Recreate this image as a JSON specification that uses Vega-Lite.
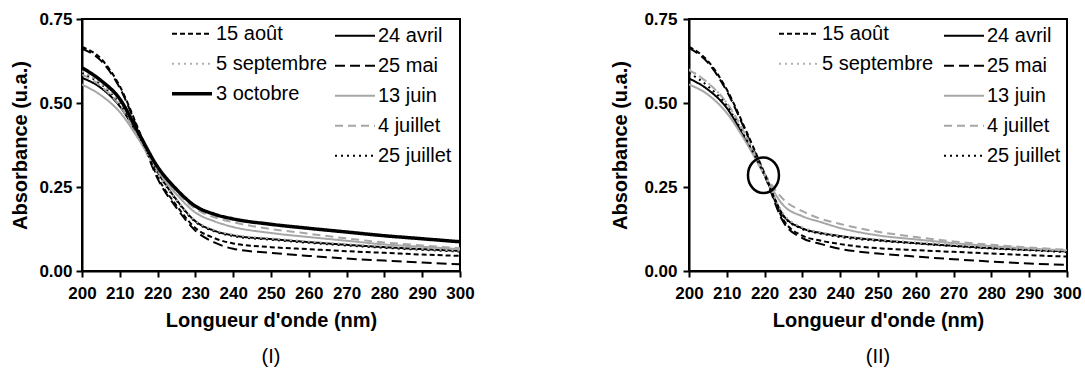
{
  "$schema": "https://vega.github.io/schema/vega-lite/v6.json",
  "padding": {"left": 9, "top": 9, "right": 2, "bottom": 0},
  "datasets": {
    "I": [
      {"nm": 200, "15 août": 0.667, "25 mai": 0.662, "3 octobre": 0.605, "24 avril": 0.575, "25 juillet": 0.59, "5 septembre": 0.595, "13 juin": 0.555, "4 juillet": 0.585},
      {"nm": 205, "15 août": 0.632, "25 mai": 0.626, "3 octobre": 0.567, "24 avril": 0.545, "25 juillet": 0.556, "5 septembre": 0.558, "13 juin": 0.523, "4 juillet": 0.55},
      {"nm": 210, "15 août": 0.55, "25 mai": 0.545, "3 octobre": 0.512, "24 avril": 0.49, "25 juillet": 0.498, "5 septembre": 0.5, "13 juin": 0.473, "4 juillet": 0.492},
      {"nm": 215, "15 août": 0.42, "25 mai": 0.415, "3 octobre": 0.41, "24 avril": 0.4, "25 juillet": 0.404, "5 septembre": 0.402, "13 juin": 0.392, "4 juillet": 0.398},
      {"nm": 220, "15 août": 0.28, "25 mai": 0.275, "3 octobre": 0.31, "24 avril": 0.295, "25 juillet": 0.293, "5 septembre": 0.292, "13 juin": 0.298, "4 juillet": 0.3},
      {"nm": 225, "15 août": 0.195, "25 mai": 0.188, "3 octobre": 0.243, "24 avril": 0.212, "25 juillet": 0.21, "5 septembre": 0.212, "13 juin": 0.228, "4 juillet": 0.235},
      {"nm": 230, "15 août": 0.128, "25 mai": 0.12, "3 octobre": 0.193, "24 avril": 0.148, "25 juillet": 0.146, "5 septembre": 0.15, "13 juin": 0.174, "4 juillet": 0.185},
      {"nm": 235, "15 août": 0.098, "25 mai": 0.085, "3 octobre": 0.169, "24 avril": 0.12, "25 juillet": 0.118, "5 septembre": 0.122, "13 juin": 0.148, "4 juillet": 0.16},
      {"nm": 240, "15 août": 0.082, "25 mai": 0.066, "3 octobre": 0.155, "24 avril": 0.106, "25 juillet": 0.104, "5 septembre": 0.108, "13 juin": 0.131, "4 juillet": 0.145},
      {"nm": 250, "15 août": 0.071, "25 mai": 0.054, "3 octobre": 0.139, "24 avril": 0.095, "25 juillet": 0.093, "5 septembre": 0.097, "13 juin": 0.113, "4 juillet": 0.125},
      {"nm": 260, "15 août": 0.065, "25 mai": 0.045, "3 octobre": 0.127, "24 avril": 0.086, "25 juillet": 0.084, "5 septembre": 0.088, "13 juin": 0.101, "4 juillet": 0.111},
      {"nm": 270, "15 août": 0.059, "25 mai": 0.037, "3 octobre": 0.116, "24 avril": 0.078, "25 juillet": 0.076, "5 septembre": 0.08, "13 juin": 0.09, "4 juillet": 0.097},
      {"nm": 280, "15 août": 0.054, "25 mai": 0.031, "3 octobre": 0.105, "24 avril": 0.071, "25 juillet": 0.069, "5 septembre": 0.073, "13 juin": 0.079, "4 juillet": 0.085},
      {"nm": 290, "15 août": 0.049, "25 mai": 0.025, "3 octobre": 0.096, "24 avril": 0.065, "25 juillet": 0.063, "5 septembre": 0.066, "13 juin": 0.072, "4 juillet": 0.076},
      {"nm": 300, "15 août": 0.045, "25 mai": 0.02, "3 octobre": 0.087, "24 avril": 0.06, "25 juillet": 0.058, "5 septembre": 0.061, "13 juin": 0.065, "4 juillet": 0.068}
    ],
    "II": [
      {"nm": 200, "15 août": 0.668, "25 mai": 0.664, "24 avril": 0.573, "25 juillet": 0.59, "5 septembre": 0.6, "13 juin": 0.555, "4 juillet": 0.598},
      {"nm": 205, "15 août": 0.625, "25 mai": 0.62, "24 avril": 0.54, "25 juillet": 0.55, "5 septembre": 0.56, "13 juin": 0.525, "4 juillet": 0.56},
      {"nm": 210, "15 août": 0.54, "25 mai": 0.535, "24 avril": 0.485, "25 juillet": 0.492, "5 septembre": 0.5, "13 juin": 0.47, "4 juillet": 0.5},
      {"nm": 215, "15 août": 0.42, "25 mai": 0.415, "24 avril": 0.39, "25 juillet": 0.395, "5 septembre": 0.4, "13 juin": 0.385, "4 juillet": 0.405},
      {"nm": 220, "15 août": 0.29, "25 mai": 0.285, "24 avril": 0.285, "25 juillet": 0.285, "5 septembre": 0.285, "13 juin": 0.285, "4 juillet": 0.29},
      {"nm": 225, "15 août": 0.152, "25 mai": 0.145, "24 avril": 0.165, "25 juillet": 0.163, "5 septembre": 0.17, "13 juin": 0.195, "4 juillet": 0.213},
      {"nm": 230, "15 août": 0.105, "25 mai": 0.098, "24 avril": 0.127, "25 juillet": 0.125, "5 septembre": 0.13, "13 juin": 0.163, "4 juillet": 0.178},
      {"nm": 235, "15 août": 0.09, "25 mai": 0.08, "24 avril": 0.113, "25 juillet": 0.111, "5 septembre": 0.115, "13 juin": 0.145, "4 juillet": 0.155},
      {"nm": 240, "15 août": 0.08, "25 mai": 0.066, "24 avril": 0.104, "25 juillet": 0.101, "5 septembre": 0.105, "13 juin": 0.128, "4 juillet": 0.14},
      {"nm": 250, "15 août": 0.068, "25 mai": 0.052, "24 avril": 0.092, "25 juillet": 0.09, "5 septembre": 0.094, "13 juin": 0.106, "4 juillet": 0.117},
      {"nm": 260, "15 août": 0.062, "25 mai": 0.043, "24 avril": 0.083, "25 juillet": 0.082, "5 septembre": 0.085, "13 juin": 0.094, "4 juillet": 0.101},
      {"nm": 270, "15 août": 0.057, "25 mai": 0.035, "24 avril": 0.075, "25 juillet": 0.074, "5 septembre": 0.078, "13 juin": 0.083, "4 juillet": 0.088},
      {"nm": 280, "15 août": 0.052, "25 mai": 0.028, "24 avril": 0.068, "25 juillet": 0.067, "5 septembre": 0.07, "13 juin": 0.074, "4 juillet": 0.078},
      {"nm": 290, "15 août": 0.047, "25 mai": 0.022, "24 avril": 0.063, "25 juillet": 0.062, "5 septembre": 0.065, "13 juin": 0.067, "4 juillet": 0.07},
      {"nm": 300, "15 août": 0.043, "25 mai": 0.018, "24 avril": 0.058, "25 juillet": 0.056, "5 septembre": 0.06, "13 juin": 0.061, "4 juillet": 0.063}
    ],
    "cercle": [{"nm": 219.7, "a": 0.285}]
  },
  "spacing": 133,
  "hconcat": [
    {
      "width": 378,
      "height": 252,
      "title": {"text": "(I)", "orient": "bottom", "frame": "group"},
      "layer": [
        {
          "data": {"name": "I"},
          "transform": [{"fold": ["24 avril", "25 mai", "13 juin", "4 juillet", "25 juillet"], "as": ["serie", "a"]}],
          "mark": {"type": "line", "interpolate": "monotone", "clip": true},
          "encoding": {
            "x": {"field": "nm", "type": "quantitative", "scale": {"domain": [200, 300], "nice": false}, "axis": {"title": "Longueur d'onde (nm)", "values": [200, 210, 220, 230, 240, 250, 260, 270, 280, 290, 300], "labelOverlap": false, "tickCount": 11}},
            "y": {"field": "a", "type": "quantitative", "scale": {"domain": [0, 0.75], "nice": false}, "axis": {"title": "Absorbance (u.a.)", "values": [0, 0.25, 0.5, 0.75], "format": ".2f", "labelPadding": 4, "titlePadding": 8}},
            "color": {"field": "serie", "type": "nominal", "scale": {"domain": ["24 avril", "25 mai", "13 juin", "4 juillet", "25 juillet"], "range": ["#000000", "#000000", "#a6a6a6", "#a6a6a6", "#000000"]}, "legend": {"legendX": 252, "legendY": 2}},
            "strokeDash": {"field": "serie", "type": "nominal", "scale": {"domain": ["24 avril", "25 mai", "13 juin", "4 juillet", "25 juillet"], "range": [[1, 0], [10, 5], [1, 0], [8, 5], [2, 4]]}},
            "strokeWidth": {"field": "serie", "type": "nominal", "scale": {"type": "ordinal", "domain": ["24 avril", "25 mai", "13 juin", "4 juillet", "25 juillet"], "range": [2, 2, 2, 2, 2]}}
          }
        },
        {
          "data": {"name": "I"},
          "transform": [{"fold": ["15 août", "5 septembre", "3 octobre"], "as": ["serie", "a"]}],
          "mark": {"type": "line", "interpolate": "monotone", "clip": true},
          "encoding": {
            "x": {"field": "nm", "type": "quantitative", "axis": {"title": "Longueur d'onde (nm)", "values": [200, 210, 220, 230, 240, 250, 260, 270, 280, 290, 300], "labelOverlap": false, "tickCount": 11}},
            "y": {"field": "a", "type": "quantitative"},
            "color": {"field": "serie", "type": "nominal", "scale": {"domain": ["15 août", "5 septembre", "3 octobre"], "range": ["#000000", "#b0b0b0", "#000000"]}, "legend": {"legendX": 88, "legendY": 0}},
            "strokeDash": {"field": "serie", "type": "nominal", "scale": {"domain": ["15 août", "5 septembre", "3 octobre"], "range": [[5, 3], [2, 4], [1, 0]]}},
            "strokeWidth": {"field": "serie", "type": "nominal", "scale": {"type": "ordinal", "domain": ["15 août", "5 septembre", "3 octobre"], "range": [2, 2, 3.5]}}
          }
        }
      ],
      "resolve": {"scale": {"color": "independent", "strokeDash": "independent", "strokeWidth": "independent"}}
    },
    {
      "width": 378,
      "height": 252,
      "title": {"text": "(II)", "orient": "bottom", "frame": "group"},
      "layer": [
        {
          "data": {"name": "II"},
          "transform": [{"fold": ["24 avril", "25 mai", "13 juin", "4 juillet", "25 juillet"], "as": ["serie", "a"]}],
          "mark": {"type": "line", "interpolate": "monotone", "clip": true},
          "encoding": {
            "x": {"field": "nm", "type": "quantitative", "scale": {"domain": [200, 300], "nice": false}, "axis": {"title": "Longueur d'onde (nm)", "values": [200, 210, 220, 230, 240, 250, 260, 270, 280, 290, 300], "labelOverlap": false, "tickCount": 11}},
            "y": {"field": "a", "type": "quantitative", "scale": {"domain": [0, 0.75], "nice": false}, "axis": {"title": "Absorbance (u.a.)", "values": [0, 0.25, 0.5, 0.75], "format": ".2f", "labelPadding": 6, "titlePadding": 13}},
            "color": {"field": "serie", "type": "nominal", "scale": {"domain": ["24 avril", "25 mai", "13 juin", "4 juillet", "25 juillet"], "range": ["#000000", "#000000", "#a6a6a6", "#a6a6a6", "#000000"]}, "legend": {"legendX": 254, "legendY": 2}},
            "strokeDash": {"field": "serie", "type": "nominal", "scale": {"domain": ["24 avril", "25 mai", "13 juin", "4 juillet", "25 juillet"], "range": [[1, 0], [10, 5], [1, 0], [8, 5], [2, 4]]}},
            "strokeWidth": {"field": "serie", "type": "nominal", "scale": {"type": "ordinal", "domain": ["24 avril", "25 mai", "13 juin", "4 juillet", "25 juillet"], "range": [2, 2, 2, 2, 2]}}
          }
        },
        {
          "data": {"name": "II"},
          "transform": [{"fold": ["15 août", "5 septembre"], "as": ["serie", "a"]}],
          "mark": {"type": "line", "interpolate": "monotone", "clip": true},
          "encoding": {
            "x": {"field": "nm", "type": "quantitative", "axis": {"title": "Longueur d'onde (nm)", "values": [200, 210, 220, 230, 240, 250, 260, 270, 280, 290, 300], "labelOverlap": false, "tickCount": 11}},
            "y": {"field": "a", "type": "quantitative"},
            "color": {"field": "serie", "type": "nominal", "scale": {"domain": ["15 août", "5 septembre"], "range": ["#000000", "#b0b0b0"]}, "legend": {"legendX": 89, "legendY": 0}},
            "strokeDash": {"field": "serie", "type": "nominal", "scale": {"domain": ["15 août", "5 septembre"], "range": [[5, 3], [2, 4]]}},
            "strokeWidth": {"field": "serie", "type": "nominal", "scale": {"type": "ordinal", "domain": ["15 août", "5 septembre"], "range": [2, 2]}}
          }
        },
        {
          "data": {"name": "cercle"},
          "mark": {"type": "point", "shape": "M-1,0A1,1.15,0,1,1,1,0A1,1.15,0,1,1,-1,0Z", "size": 961, "filled": false, "stroke": "#000000", "strokeWidth": 2.5, "opacity": 1},
          "encoding": {
            "x": {"field": "nm", "type": "quantitative"},
            "y": {"field": "a", "type": "quantitative"}
          }
        }
      ],
      "resolve": {"scale": {"color": "independent", "strokeDash": "independent", "strokeWidth": "independent"}}
    }
  ],
  "config": {
    "font": "Liberation Sans",
    "view": {"stroke": "#000000", "strokeWidth": 2},
    "axis": {
      "grid": false,
      "domainColor": "#000000",
      "domainWidth": 2,
      "tickColor": "#000000",
      "tickWidth": 2,
      "tickSize": 6,
      "labelFont": "Liberation Sans",
      "labelFontSize": 17,
      "labelFontWeight": "bold",
      "labelColor": "#000000",
      "labelFlush": false,
      "labelOverlap": false,
      "titleFont": "Liberation Sans",
      "titleFontSize": 20,
      "titleFontWeight": "bold",
      "titleColor": "#000000"
    },
    "axisX": {"labelPadding": 8, "titlePadding": 9},
    "legend": {
      "orient": "none",
      "title": null,
      "symbolType": "stroke",
      "symbolSize": 1600,
      "labelFont": "Liberation Sans",
      "labelFontSize": 20,
      "labelColor": "#000000",
      "labelOffset": 2,
      "rowPadding": 0,
      "clipHeight": 29.5,
      "labelLimit": 300
    },
    "title": {"font": "Liberation Sans", "fontSize": 20, "fontWeight": "normal", "color": "#000000", "offset": 17}
  }
}
